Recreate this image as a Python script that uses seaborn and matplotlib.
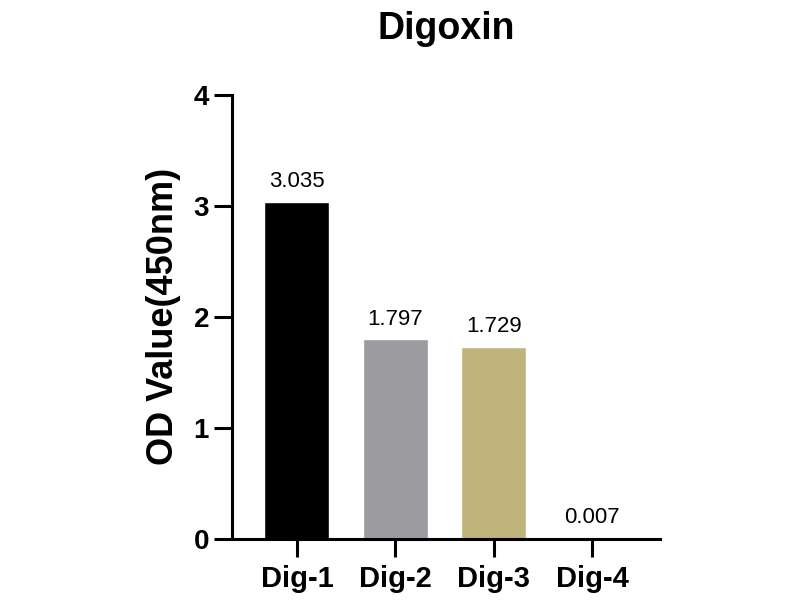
import matplotlib
matplotlib.use("Agg")
import matplotlib.pyplot as plt
import seaborn as sns
import pandas as pd

# values
groups = ["Dig-1", "Dig-2", "Dig-3", "Dig-4"]
od_values = [3.035, 1.797, 1.729, 0.007]
bar_colors = ["#000000", "#9c9ca0", "#bfb57c", "#d9c9a3"]
y_ticks = [0, 1, 2, 3, 4]

sns.set_style("ticks", {"axes.edgecolor": "black", "text.color": "black",
                        "xtick.color": "black", "ytick.color": "black",
                        "axes.labelcolor": "black"})
plt.rcParams["font.family"] = ["Liberation Sans", "DejaVu Sans"]

df = pd.DataFrame({"group": groups, "od": od_values})

fig = plt.figure(figsize=(8, 6), dpi=100)
ax = fig.add_axes([0.29, 0.1017, 0.535, 0.7403])

sns.barplot(data=df, x="group", y="od", hue="group", palette=bar_colors,
            width=0.66, legend=False, saturation=1, ax=ax)

for i, v in enumerate(od_values):
    ax.annotate(f"{v:.3f}", (i, v), xytext=(0, 7), textcoords="offset points",
                ha="center", va="bottom", fontsize=16, color="black")

ax.set_xlim(-0.66, 3.69)
ax.set_ylim(0, 4)
ax.set_yticks(y_ticks)
ax.set_yticklabels([str(t) for t in y_ticks], fontsize=20, fontweight="bold")
ax.set_xticks(range(len(groups)))
ax.set_xticklabels(groups, fontsize=21, fontweight="bold")
ax.set_xlabel("")
ax.set_ylabel("OD Value(450nm)", fontsize=26, fontweight="bold", labelpad=9)
ax.set_title("Digoxin", fontsize=27, fontweight="bold", pad=40)

sns.despine(ax=ax)
for s in ["left", "bottom"]:
    ax.spines[s].set_linewidth(2.2)
ax.tick_params(axis="both", width=2.2, length=13, colors="black")
ax.tick_params(axis="x", pad=6)

fig.savefig("out.png", dpi=100)
